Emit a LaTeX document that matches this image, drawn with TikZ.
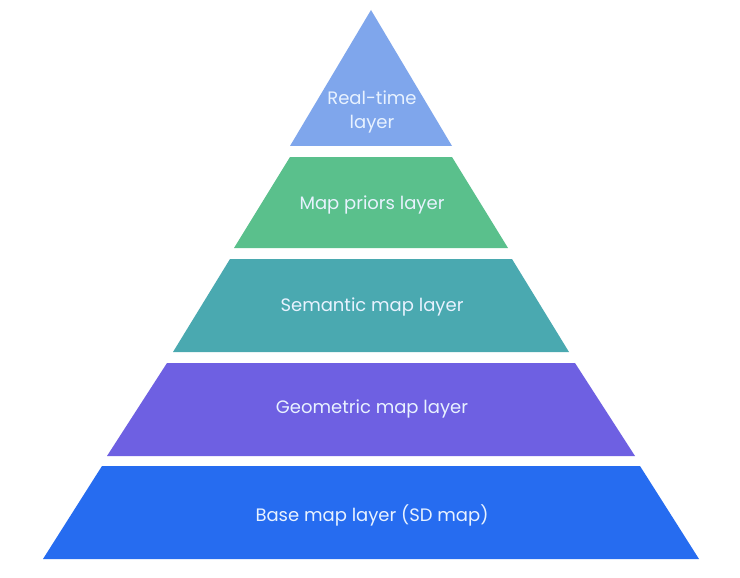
\documentclass[tikz,border=0pt]{standalone}
\usepackage{fontspec}
\setmainfont{Poppins}
\definecolor{cReal}{HTML}{7FA6EC}
\definecolor{cPrior}{HTML}{5AC08C}
\definecolor{cSem}{HTML}{4AA9B0}
\definecolor{cGeo}{HTML}{6E60E2}
\definecolor{cBase}{HTML}{266CF0}
\definecolor{cText}{HTML}{E8F2FF}
\begin{document}
\begin{tikzpicture}[x=1pt,y=-1pt,
  lbl/.style={text=cText,font=\fontsize{18}{24}\selectfont,align=center,inner sep=0pt}]
\useasboundingbox[fill=white] (0,0) rectangle (740,578);
\fill[cReal] (371,10) -- (452,146) -- (290,146) -- cycle;
\fill[cPrior] (290,157) -- (452,157) -- (508,248) -- (234,248) -- cycle;
\fill[cSem] (230,259) -- (512,259) -- (569,352) -- (173,352) -- cycle;
\fill[cGeo] (167,363) -- (575,363) -- (635,456) -- (107,456) -- cycle;
\fill[cBase] (102,466) -- (640,466) -- (699,559) -- (43,559) -- cycle;
\node[lbl] (real) at (372,112) {Real-time\\layer};
\node[lbl] (prior) at (372,205) {Map priors layer};
\node[lbl] (sem) at (372,307) {Semantic map layer};
\node[lbl] (geo) at (372,409) {Geometric map layer};
\node[lbl] (base) at (372,515) {Base map layer (SD map)};
\end{tikzpicture}
\end{document}
